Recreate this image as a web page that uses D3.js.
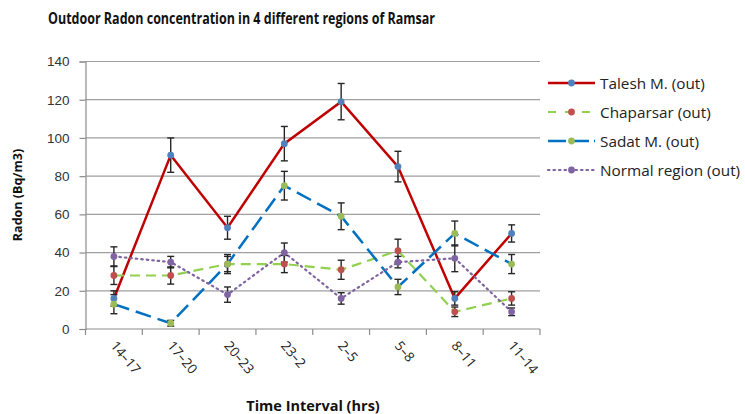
<!DOCTYPE html>
<html>
<head>
<meta charset="utf-8">
<script src="https://cdnjs.cloudflare.com/ajax/libs/d3/7.8.5/d3.min.js"></script>
<style>
  body { margin: 0; background: #fff; }
  svg { font-family: "Open Sans", "Noto Sans", sans-serif; }
</style>
</head>
<body>
<div id="chart"></div>
<script>
// categories and values
var intervals = ["14\u201317", "17\u201320", "20\u201323", "23\u20132", "2\u20135", "5\u20138", "8\u201311", "11\u201314"];
var yTicks = [0, 20, 40, 60, 80, 100, 120, 140];

var taleshVals   = [16, 91, 53, 97, 119, 85, 16, 50];
var taleshErr    = [4, 9, 6, 9, 9.5, 8, 3.5, 4.5];
var chaparsarVals = [28, 28, 34, 34, 31, 41, 9, 16];
var chaparsarErr  = [4.7, 4.5, 4, 4.5, 5, 6, 2.5, 3.5];
var sadatVals    = [13, 3, 34, 75, 59, 22, 50, 34];
var sadatErr     = [5, 1.5, 5, 7.5, 7, 4, 6.5, 5];
var normalVals   = [38, 35, 18, 40, 16, 35, 37, 9];
var normalErr    = [5, 3, 4, 5, 3, 3, 7, 2];

var series = [
  {name: "Talesh M. (out)", vals: taleshVals, err: taleshErr, line: "#C00000", marker: "#4F81BD", width: 2.5, dash: null, legDash: null},
  {name: "Chaparsar (out)", vals: chaparsarVals, err: chaparsarErr, line: "#92D050", marker: "#C0504D", width: 2.2, dash: "10,6", legDash: "8,9"},
  {name: "Sadat M. (out)", vals: sadatVals, err: sadatErr, line: "#0070C0", marker: "#9BBB59", width: 2.5, dash: "16,7", legDash: "18,5"},
  {name: "Normal region (out)", vals: normalVals, err: normalErr, line: "#8064A2", marker: "#8064A2", width: 2.2, dash: "1.5,4", legDash: "1.5,4", cap: "round"}
];

var W = 745, H = 414;
var margin = {top: 61.5, right: 205, bottom: 85, left: 85.5};
var width = W - margin.left - margin.right;
var height = H - margin.top - margin.bottom;

var svg = d3.select("#chart").append("svg")
    .attr("width", W)
    .attr("height", H);

var g = svg.append("g")
    .attr("transform", "translate(" + margin.left + "," + margin.top + ")");

var x = d3.scaleBand().domain(intervals).range([0, width]);
var y = d3.scaleLinear().domain([0, 140]).range([height, 0]);

// gridlines
g.append("g")
  .selectAll("line")
  .data(yTicks.filter(function(d) { return d > 0; }))
  .enter().append("line")
    .attr("x1", 0).attr("x2", width)
    .attr("y1", function(d) { return y(d); })
    .attr("y2", function(d) { return y(d); })
    .attr("stroke", "#a0a0a0")
    .attr("stroke-width", 1.2);

// y axis
var yAxis = g.append("g")
    .call(d3.axisLeft(y).tickValues(yTicks).tickSize(6).tickPadding(10));
yAxis.select(".domain").attr("stroke", "#8c8c8c").attr("stroke-width", 1.2);
yAxis.selectAll(".tick line").attr("stroke", "#8c8c8c").attr("stroke-width", 1.2);
yAxis.selectAll("text").attr("font-size", 13.5).attr("fill", "#333");

// x axis, ticks between categories
var xAxis = g.append("g")
    .attr("transform", "translate(0," + height + ")");
xAxis.append("line")
    .attr("x1", 0).attr("x2", width)
    .attr("stroke", "#8c8c8c").attr("stroke-width", 1.2);
xAxis.selectAll(".xt")
  .data(intervals.concat(["end"]))
  .enter().append("line")
    .attr("class", "xt")
    .attr("x1", function(d, i) { return i * x.bandwidth(); })
    .attr("x2", function(d, i) { return i * x.bandwidth(); })
    .attr("y1", 0).attr("y2", 6)
    .attr("stroke", "#8c8c8c").attr("stroke-width", 1.2);
xAxis.selectAll(".xl")
  .data(intervals)
  .enter().append("text")
    .attr("class", "xl")
    .attr("transform", function(d) {
      return "translate(" + (x(d) + x.bandwidth() / 2 - 4) + ",17) rotate(50)";
    })
    .attr("font-size", 13.5)
    .attr("fill", "#222")
    .text(function(d) { return d; });

// lines
var line = d3.line()
    .x(function(d, i) { return x(intervals[i]) + x.bandwidth() / 2; })
    .y(function(d) { return y(d); });

series.forEach(function(s) {
  g.append("path")
    .datum(s.vals)
    .attr("fill", "none")
    .attr("stroke", s.line)
    .attr("stroke-width", s.width)
    .attr("stroke-dasharray", s.dash)
    .attr("stroke-linecap", s.cap || "butt")
    .attr("d", line);
});

// error bars
series.forEach(function(s) {
  var eb = g.append("g").attr("stroke", "#262626").attr("stroke-width", 1.4);
  s.vals.forEach(function(v, i) {
    var cx = x(intervals[i]) + x.bandwidth() / 2;
    var y1 = y(v + s.err[i]), y2 = y(v - s.err[i]);
    eb.append("line").attr("x1", cx).attr("x2", cx).attr("y1", y1).attr("y2", y2);
    eb.append("line").attr("x1", cx - 3.5).attr("x2", cx + 3.5).attr("y1", y1).attr("y2", y1);
    eb.append("line").attr("x1", cx - 3.5).attr("x2", cx + 3.5).attr("y1", y2).attr("y2", y2);
  });
});

// markers
series.forEach(function(s) {
  g.append("g").selectAll("circle")
    .data(s.vals)
    .enter().append("circle")
      .attr("cx", function(d, i) { return x(intervals[i]) + x.bandwidth() / 2; })
      .attr("cy", function(d) { return y(d); })
      .attr("r", 3.4)
      .attr("fill", s.marker);
});

// legend
var legend = svg.append("g").attr("transform", "translate(548,83)");
series.forEach(function(s, i) {
  var lg = legend.append("g").attr("transform", "translate(0," + (i * 29) + ")");
  lg.append("line")
    .attr("x1", 0).attr("x2", 47)
    .attr("stroke", s.line)
    .attr("stroke-width", s.width)
    .attr("stroke-dasharray", s.legDash)
    .attr("stroke-linecap", s.cap || "butt");
  lg.append("circle").attr("cx", 23.5).attr("cy", 0).attr("r", 3.4).attr("fill", s.marker);
  lg.append("text")
    .attr("x", 52).attr("y", 5.5)
    .attr("font-size", 15.3)
    .attr("fill", "#222")
    .text(s.name);
});

// titles
svg.append("text")
  .attr("x", 48).attr("y", 24)
  .attr("font-size", 15.5)
  .attr("font-weight", "bold")
  .attr("fill", "#111")
  .attr("textLength", 387)
  .attr("lengthAdjust", "spacingAndGlyphs")
  .text("Outdoor Radon concentration in 4 different regions of Ramsar");

svg.append("text")
  .attr("transform", "translate(22,195) rotate(-90)")
  .attr("text-anchor", "middle")
  .attr("font-size", 12.5)
  .attr("font-weight", "bold")
  .attr("fill", "#111")
  .text("Radon (Bq/m3)");

svg.append("text")
  .attr("x", 313).attr("y", 411)
  .attr("text-anchor", "middle")
  .attr("font-size", 14.5)
  .attr("font-weight", "bold")
  .attr("fill", "#111")
  .text("Time Interval (hrs)");
</script>
</body>
</html>
